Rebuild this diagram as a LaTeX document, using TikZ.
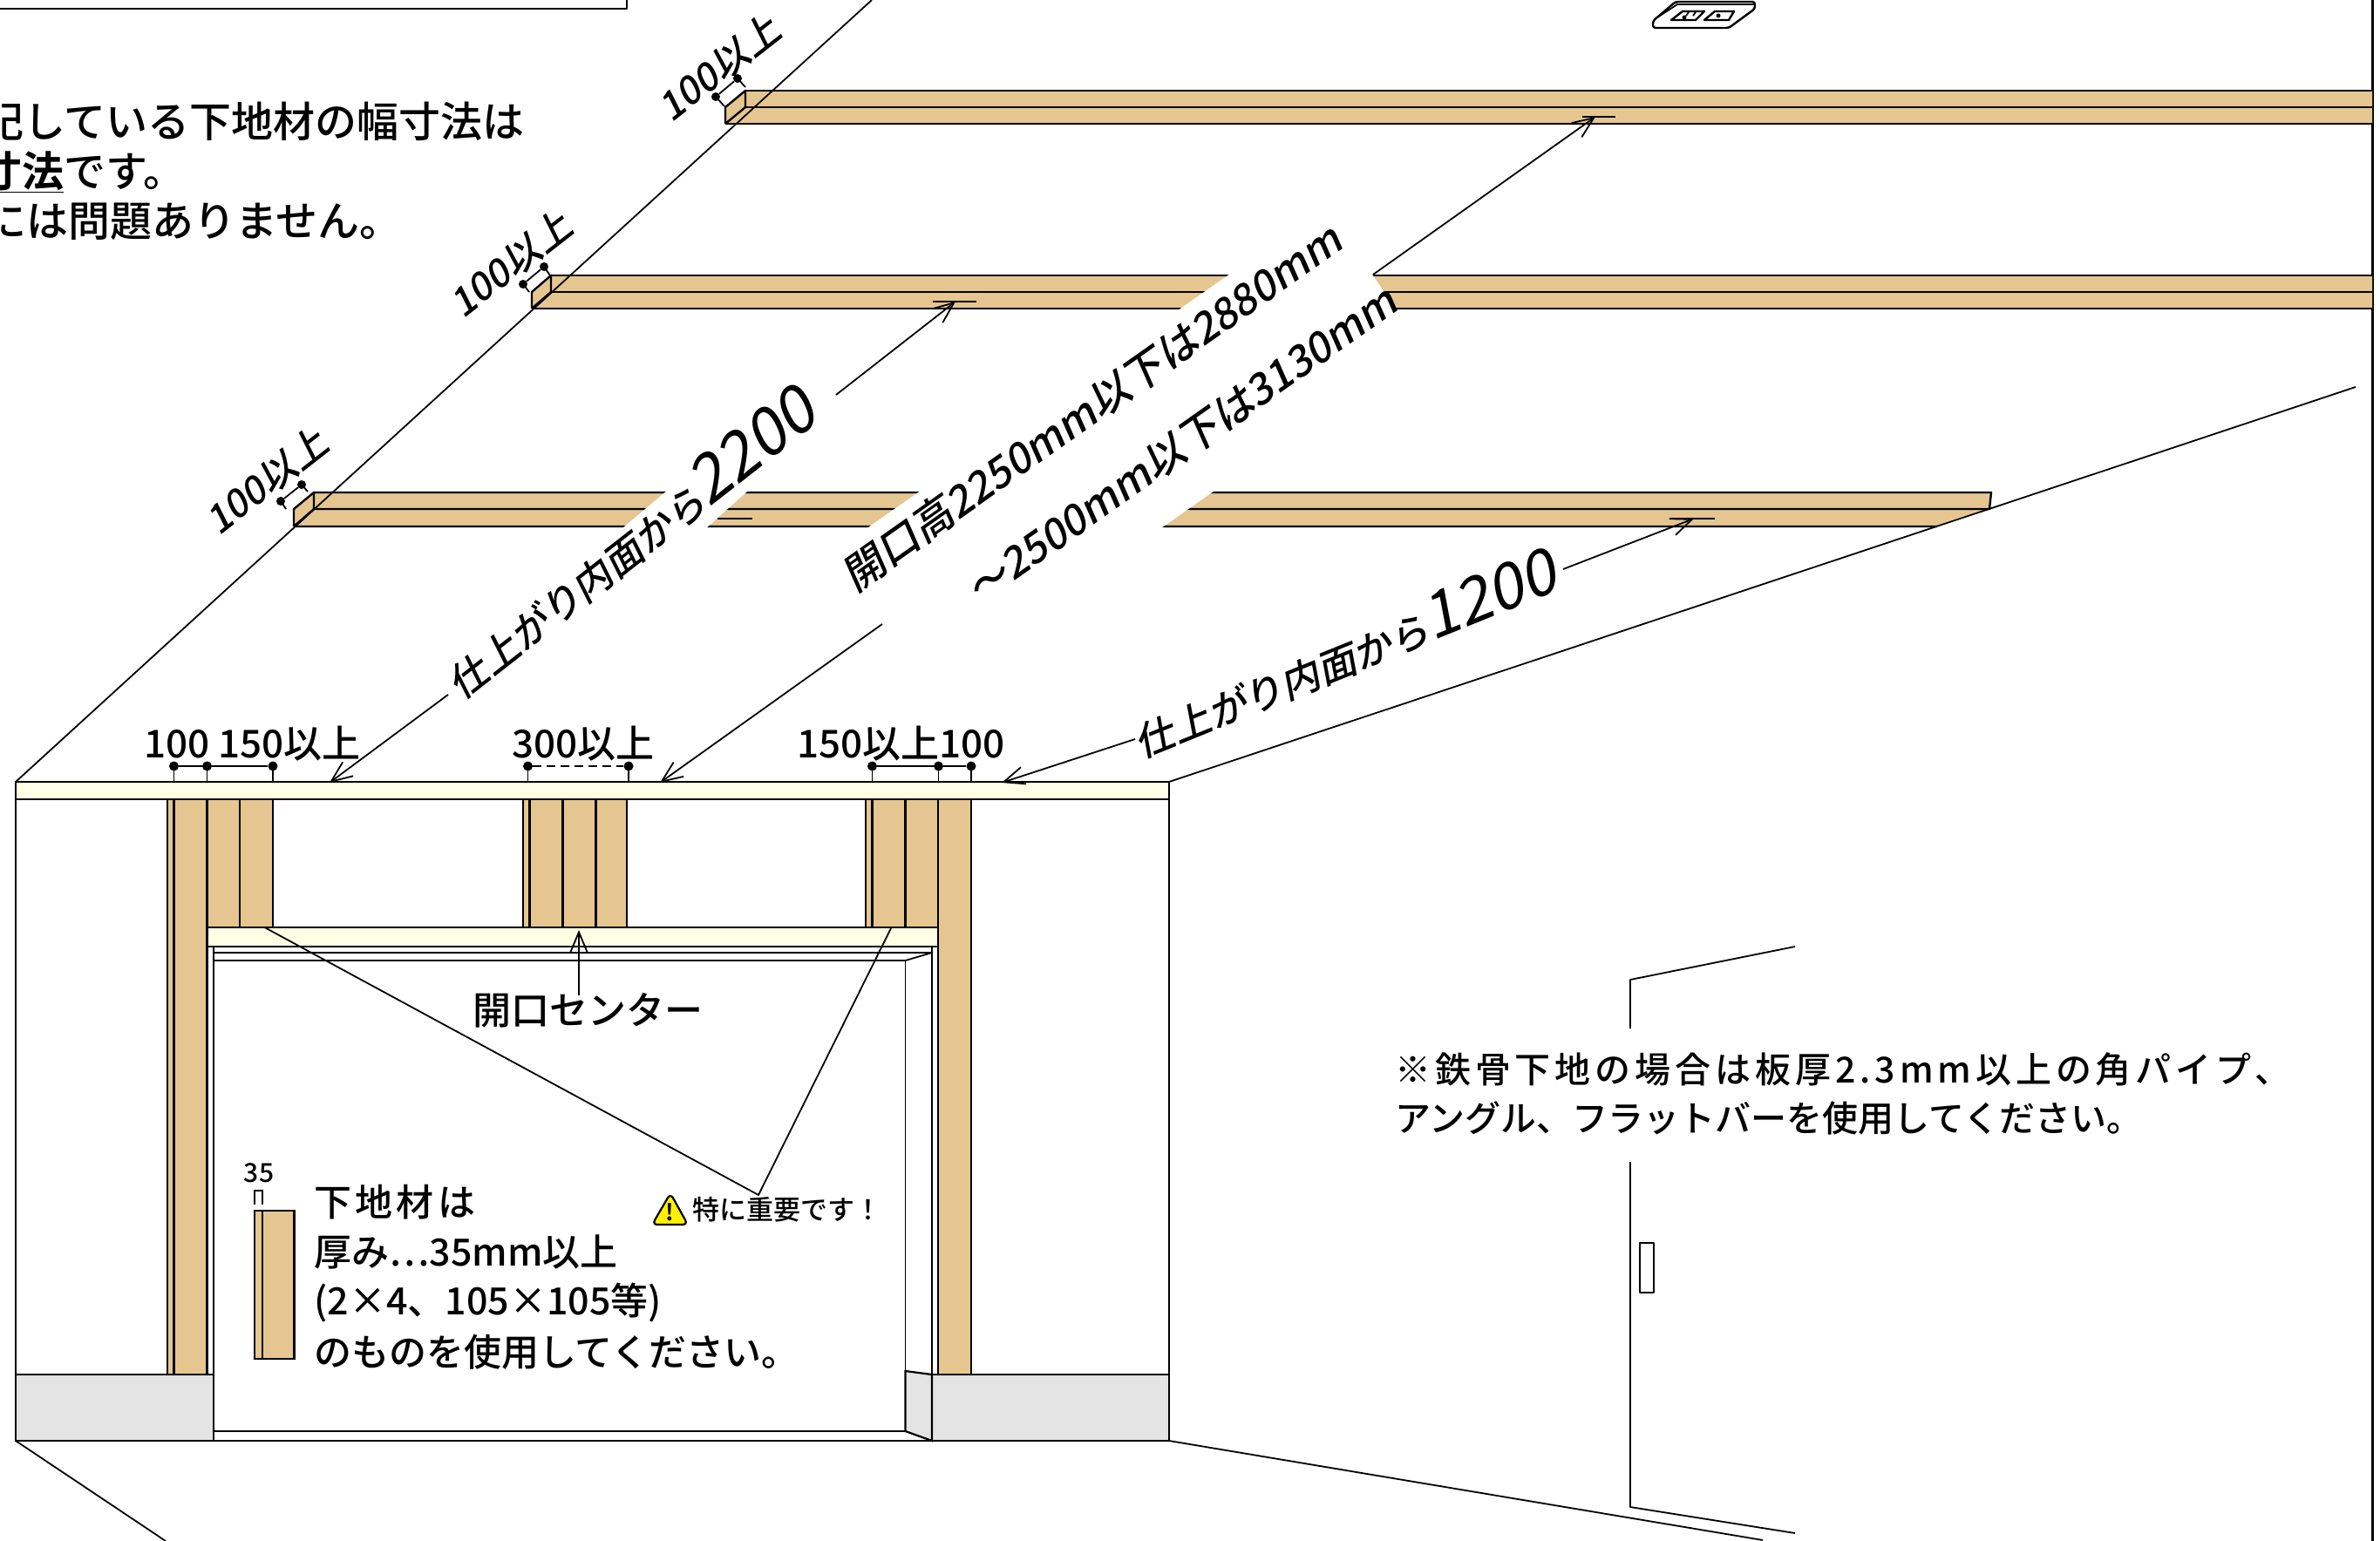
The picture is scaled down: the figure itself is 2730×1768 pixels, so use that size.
\documentclass[tikz,border=0pt]{standalone}
\usepackage{fontspec}
\setmainfont[BoldFont={Noto Sans CJK JP Bold}]{Noto Sans CJK JP Medium}
\newfontfamily\regfont{Noto Sans CJK JP}
\usetikzlibrary{arrows.meta}
\definecolor{wood}{HTML}{E5C691}
\definecolor{cream}{HTML}{FFFFE6}
\definecolor{basegray}{HTML}{E4E4E4}
\newcommand{\fs}[1]{\fontsize{#1}{#1}\selectfont}
\newcommand{\ls}[1]{\addfontfeature{LetterSpace=#1}}
\tikzset{
  x=1pt,y=-1pt,
  thin line/.style={line width=1.8pt,line join=round},
  med line/.style={line width=2.4pt,line join=round},
  woodbox/.style={fill=wood,draw=black,line width=2.4pt},
  creambox/.style={fill=cream,draw=black,line width=2.4pt},
  graybox/.style={fill=basegray,draw=black,line width=2.2pt},
  leader/.style={line width=1.8pt,-{Straight Barb[length=24pt,width=20pt,line width=1.8pt]}},
  dimdot/.style={circle,fill=black,inner sep=0pt,minimum size=11pt},
  lab/.style={inner sep=0pt,font=\fs{45}},
  rot/.style={inner sep=0pt,rotate=#1,xslant=0.2},
}
\begin{document}
\begin{tikzpicture}
\useasboundingbox (0,0) rectangle (2730,1768);
\begin{scope}
\clip (0,0) rectangle (2730,1768);
% top-left box
\draw[med line] (0,10) -- (719,10) -- (719,0);
% right wall
\draw[line width=3pt] (2721,0) -- (2721,1768);
% outlet
\draw[med line,rounded corners=3pt] (1896,24) -- (1922,2) -- (2013,2) -- (2013,10) -- (1983,32) -- (1896,32) -- cycle;
\draw[thin line] (1898,22) -- (1924,5) -- (2012,5);
\draw[med line] (1917,23) -- (1930,13) -- (1955,13) -- (1945,23) -- cycle;
\draw[med line] (1955,23) -- (1967,13) -- (1989,13) -- (1983,23) -- cycle;
\fill (1971,18) circle (2.5pt);
\fill (1932,20) circle (2.5pt);
\draw[thin line] (1937,14) -- (1934,18) (1945,14) -- (1942,18);
% joists
\foreach \a/\b/\c/\xf/\xr in {104/123/142/832/855,316/335/354/610/632}{
  \fill[wood] (\xf,\c) -- (\xf,\b) -- (\xr,\a) -- (2721,\a) -- (2721,\c) -- cycle;
  \draw[med line] (\xr,\a) -- (2721,\a) (\xr,\b) -- (2721,\b) (\xf,\c) -- (2721,\c);
  \draw[med line] (\xf,\c) -- (\xf,\b) -- (\xr,\a) -- (\xr,\b) -- (\xf,\c);
}
\fill[wood] (337,604) -- (337,584) -- (360,565) -- (2284,565) -- (2282,584) -- (2222,604) -- cycle;
\draw[med line] (360,565) -- (2284,565) -- (2282,584) -- (360,584) (337,604) -- (2222,604);
\draw[med line] (337,604) -- (337,584) -- (360,565) -- (360,584) -- (337,604);
% text bands
\fill[white] (956,633) -- (1521,237) -- (1630,397) -- (1065,793) -- cycle;
\fill[white] (765,563) -- (858,563) -- (810,606) -- (714,606) -- cycle;
% ticks
\draw[med line] (823,595) -- (863,595);
\draw[med line] (1070,346) -- (1120,346);
\draw[med line] (1815,134) -- (1853,134);
\draw[med line] (1915,595) -- (1967,595);
% ceiling lines
\draw[thin line] (18,897) -- (1000,0);
\draw[thin line] (1341,897) -- (2702,444);
% wall
\draw[thin line] (18,917) -- (18,1653) (1341,917) -- (1341,1653);
% studs
\foreach \l/\r in {237.5/275,275/313,600/607.5,607.5/645.5,645.5/683.5,683.5/719,993/1000.5,1000.5/1038.5,1038.5/1076}{
  \draw[woodbox] (\l,917) rectangle (\r,1064);
}
\foreach \l/\r in {192/199.5,199.5/237.5,1076/1114}{
  \draw[woodbox] (\l,917) rectangle (\r,1577);
}
% lintels
\draw[creambox] (18,897) rectangle (1341,917);
\draw[creambox] (237.5,1064) rectangle (1076,1086);
% opening
\draw[thin line] (245,1086) -- (245,1642);
\draw[thin line] (1069,1086) -- (1069,1577);
\draw[thin line] (1076,1086) -- (1076,1577);
\draw[line width=2.8pt] (245,1093) -- (1069,1093);
\draw[thin line] (245,1102) -- (1038.5,1102) -- (1069,1093);
\draw[thin line] (1038.5,1102) -- (1038.5,1642);
% base
\draw[graybox] (18,1577) rectangle (245,1653);
\draw[graybox] (1069,1577) rectangle (1341,1653);
\draw[graybox] (1038.5,1573) -- (1069,1577) -- (1069,1653) -- (1038.5,1642) -- cycle;
\draw[line width=2.8pt] (245,1642) -- (1038.5,1642);
\draw[line width=2.8pt] (18,1653) -- (1341,1653);
% floor
\draw[thin line] (18,1653) -- (190,1768);
\draw[thin line] (1341,1653) -- (2022,1767);
% door
\draw[thin line] (2059,1086) -- (1870,1124) -- (1870,1180);
\draw[thin line] (1870,1333) -- (1870,1729) -- (2059,1759);
\draw[thin line] (1881,1426) rectangle (1897,1483);
% leaders
\coordinate (t1) at (1830,134); \coordinate (s1) at (1575,315);
\coordinate (t2) at (757,898); \coordinate (s2) at (1012,716);
\coordinate (t3) at (1096,346); \coordinate (s3) at (959,453);
\coordinate (t4) at (378,898); \coordinate (s4) at (514,797);
\coordinate (t5) at (1943,595); \coordinate (s5) at (1793,653);
\coordinate (t6) at (1149,898); \coordinate (s6) at (1302,848);
\foreach \i in {1,...,6}{ \draw[leader] (s\i) -- (t\i); }
% dims front
\foreach \n/\x in {a/199.5,b/237.5,c/313,e/605.5,f/721,g/1000.5,h/1076.5,i/1114}{
  \node[dimdot] (d\n) at (\x,879) {};
  \draw[thin line] (\x,879) -- (\x,897);
}
\draw[thin line] (da) -- (db) -- (dc);
\draw[thin line,dash pattern=on 10pt off 6pt] (de) -- (df);
\draw[thin line] (dg) -- (dh) -- (di);
% dims joist
\foreach \ax/\ay/\bx/\by/\cx/\cy/\dx/\dy in {322/575/346/556/328/584/353/564,600/326/624/306/607/335/631/316,821/111/846/90/831/122/855/100}{
  \node[dimdot,minimum size=10pt] (ja) at (\ax,\ay) {};
  \node[dimdot,minimum size=10pt] (jb) at (\bx,\by) {};
  \draw[thin line] (ja) -- (jb);
  \draw[thin line] (ja.center) -- (\cx,\cy);
  \draw[thin line] (jb.center) -- (\dx,\dy);
}
% notes
\node[lab,anchor=east,font=\fs{48}] (n1) at (602,139) {記している下地材の幅寸法は};
\node[lab,anchor=west,font=\fs{48}] (n2a) at (-23,197) {\underline{\bfseries 寸法}です。};
\node[lab,anchor=east,font=\fs{48}] (n3) at (461,254) {には問題ありません。};
% front dim labels
\node[lab,anchor=west,font=\fs{44}] (l1) at (165,853) {100 150以上};
\node[lab,anchor=west,font=\fs{44}] (l2) at (587,853) {300以上};
\node[lab,anchor=west,font=\fs{44}] (l3) at (914,853) {150以上100};
% rotated labels
\node[rot=38,font=\fs{44}] (j3) at (308,550) {100以上};
\node[rot=38,font=\fs{44}] (j2) at (588,301) {100以上};
\node[rot=38,font=\fs{44}] (j1) at (827,76) {100以上};
\node[rot=38,font=\fs{45}] (t22) at (725,620) {仕上がり内面から\regfont\fs{74}2200};
\node[rot=35.2,font=\fs{48}] (t25) at (1255,465) {開口高2250mm以下は2880mm};
\node[rot=35.2,font=\fs{48}] (t31) at (1358,509) {～2500mm以下は3130mm};
\node[rot=22,font=\fs{45}] (t12) at (1546,749) {仕上がり内面から\regfont\fs{72}1200};
% center
\node[lab,font=\fs{44}] (c) at (674,1159) {開口センター};
\draw[leader] (664,1142) -- (664,1067);
% warn
\draw[fill=yellow,draw=black,line width=2.2pt,line join=round,rounded corners=6pt] (769,1369) -- (789,1405) -- (748,1405) -- cycle;
\node[inner sep=0pt,font=\fs{26}\bfseries] (ex) at (768.5,1391) {!};
\node[lab,anchor=west,font=\fs{31}] (w) at (794,1388) {特に重要です！};
\draw[thin line] (303.5,1064) -- (870,1371) -- (1022,1065);
% material
\draw[line width=1.4pt] (292,1382) -- (292,1366) -- (301,1366) -- (301,1382);
\node[lab,font=\fs{30}] (n35) at (297,1346) {35};
\draw[woodbox] (292,1389) rectangle (301,1559);
\draw[woodbox] (301,1389) rectangle (337.5,1559);
\node[lab,anchor=west,font=\fs{43}\ls{10}] (m1) at (360,1379) {下地材は};
\node[lab,anchor=west,font=\fs{43}] (m2) at (360,1436) {厚み{\addfontfeature{RawFeature=+fwid}…}35mm以上};
\node[lab,anchor=west,font=\fs{43}] (m3) at (360,1494) {(2×4、105×105等)};
\node[lab,anchor=west,font=\fs{43}] (m4) at (360,1551) {のものを使用してください。};
\node[lab,anchor=west,font=\fs{41}\ls{12}] (r1) at (1600,1227) {※鉄骨下地の場合は板厚2.3mm以上の角パイプ、};
\node[lab,anchor=west,font=\fs{41}] (r2) at (1600,1283) {アングル、フラットバーを使用してください。};
\end{scope}
\end{tikzpicture}
\end{document}
